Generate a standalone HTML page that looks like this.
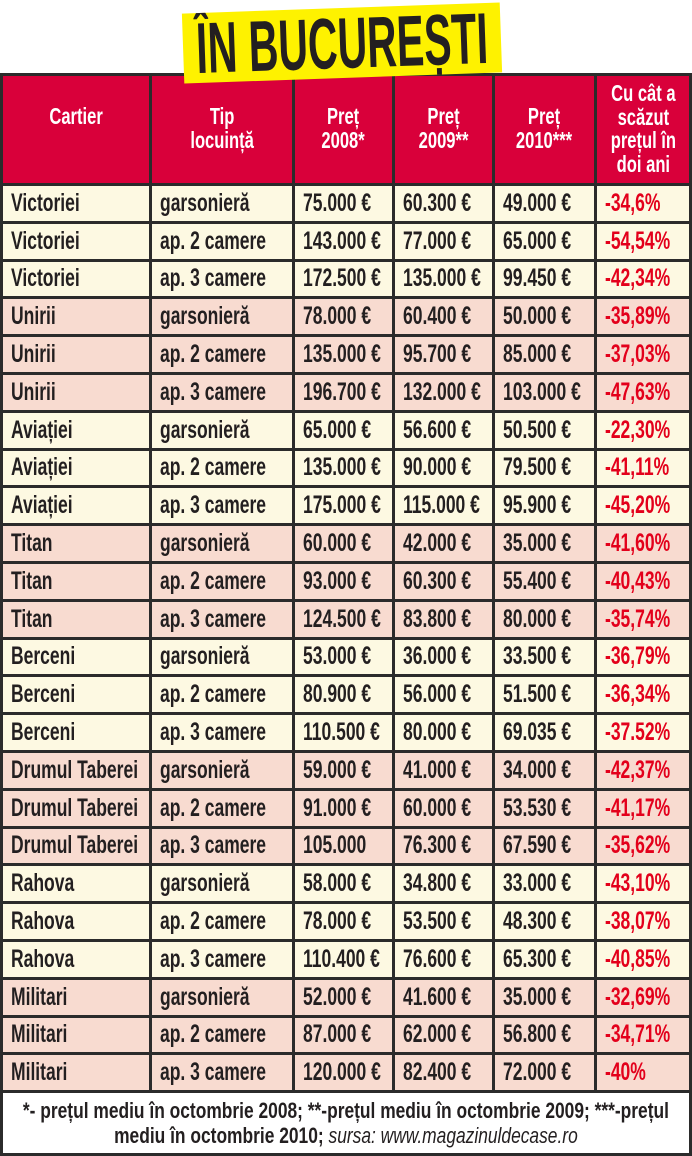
<!DOCTYPE html>
<html><head><meta charset="utf-8"><style>
body{margin:0;width:692px;height:1156px;background:#fff;position:relative;overflow:hidden;font-family:"Liberation Sans",sans-serif;font-weight:bold;}
.title{position:absolute;left:183px;top:8px;width:318px;height:70px;background:#fef200;transform:rotate(-2deg);z-index:2;text-align:center;color:#231f20;overflow:hidden;}
.title span{display:inline-block;font-size:72px;line-height:72px;white-space:nowrap;transform:scaleX(0.57);transform-origin:center;margin:0 -200px;}
table{position:absolute;left:0;top:73px;border-collapse:separate;border-spacing:3px;background:#2b2b2b;width:692px;table-layout:fixed;}
td{padding:0 0 0 8px;font-size:25px;color:#231f20;height:34.8px;white-space:nowrap;overflow:hidden;}
td span{display:inline-block;transform:scaleX(0.7);transform-origin:left center;}
th{background:#d9003a;color:#fff;font-size:23px;height:107px;line-height:23.5px;font-weight:bold;vertical-align:top;white-space:nowrap;overflow:hidden;padding:29px 0 0 0;box-sizing:border-box;}
th.c6{padding-top:6px;}
th span{display:inline-block;transform:scaleX(0.72);transform-origin:center;margin:0 -40px;}
tr.y td{background:#fdf9e2;}
tr.p td{background:#f8dbd0;}
td.r{color:#e3001b;}
td.f{background:#fff!important;height:60px;text-align:center;font-size:22px;line-height:25px;padding:0;}
td.f span{transform-origin:center;transform:scaleX(0.79);margin:0 -200px;}
td.f i{font-weight:normal;}
</style></head><body>
<div class="title"><span>ÎN BUCUREȘTI</span></div>
<table>
<colgroup><col style="width:146px"><col style="width:140px"><col style="width:97px"><col style="width:97px"><col style="width:99px"><col style="width:92px"></colgroup>
<tr><th><span>Cartier</span></th><th><span>Tip<br>locuință</span></th><th><span>Preț<br>2008*</span></th><th><span>Preț<br>2009**</span></th><th><span>Preț<br>2010***</span></th><th class="c6"><span>Cu cât a<br>scăzut<br>prețul în<br>doi ani</span></th></tr>
<tr class="y"><td><span>Victoriei</span></td><td><span>garsonieră</span></td><td><span>75.000 €</span></td><td><span>60.300 €</span></td><td><span>49.000 €</span></td><td class="r"><span>-34,6%</span></td></tr>
<tr class="y"><td><span>Victoriei</span></td><td><span>ap. 2 camere</span></td><td><span>143.000 €</span></td><td><span>77.000 €</span></td><td><span>65.000 €</span></td><td class="r"><span>-54,54%</span></td></tr>
<tr class="y"><td><span>Victoriei</span></td><td><span>ap. 3 camere</span></td><td><span>172.500 €</span></td><td><span>135.000 €</span></td><td><span>99.450 €</span></td><td class="r"><span>-42,34%</span></td></tr>
<tr class="p"><td><span>Unirii</span></td><td><span>garsonieră</span></td><td><span>78.000 €</span></td><td><span>60.400 €</span></td><td><span>50.000 €</span></td><td class="r"><span>-35,89%</span></td></tr>
<tr class="p"><td><span>Unirii</span></td><td><span>ap. 2 camere</span></td><td><span>135.000 €</span></td><td><span>95.700 €</span></td><td><span>85.000 €</span></td><td class="r"><span>-37,03%</span></td></tr>
<tr class="p"><td><span>Unirii</span></td><td><span>ap. 3 camere</span></td><td><span>196.700 €</span></td><td><span>132.000 €</span></td><td><span>103.000 €</span></td><td class="r"><span>-47,63%</span></td></tr>
<tr class="y"><td><span>Aviației</span></td><td><span>garsonieră</span></td><td><span>65.000 €</span></td><td><span>56.600 €</span></td><td><span>50.500 €</span></td><td class="r"><span>-22,30%</span></td></tr>
<tr class="y"><td><span>Aviației</span></td><td><span>ap. 2 camere</span></td><td><span>135.000 €</span></td><td><span>90.000 €</span></td><td><span>79.500 €</span></td><td class="r"><span>-41,11%</span></td></tr>
<tr class="y"><td><span>Aviației</span></td><td><span>ap. 3 camere</span></td><td><span>175.000 €</span></td><td><span>115.000 €</span></td><td><span>95.900 €</span></td><td class="r"><span>-45,20%</span></td></tr>
<tr class="p"><td><span>Titan</span></td><td><span>garsonieră</span></td><td><span>60.000 €</span></td><td><span>42.000 €</span></td><td><span>35.000 €</span></td><td class="r"><span>-41,60%</span></td></tr>
<tr class="p"><td><span>Titan</span></td><td><span>ap. 2 camere</span></td><td><span>93.000 €</span></td><td><span>60.300 €</span></td><td><span>55.400 €</span></td><td class="r"><span>-40,43%</span></td></tr>
<tr class="p"><td><span>Titan</span></td><td><span>ap. 3 camere</span></td><td><span>124.500 €</span></td><td><span>83.800 €</span></td><td><span>80.000 €</span></td><td class="r"><span>-35,74%</span></td></tr>
<tr class="y"><td><span>Berceni</span></td><td><span>garsonieră</span></td><td><span>53.000 €</span></td><td><span>36.000 €</span></td><td><span>33.500 €</span></td><td class="r"><span>-36,79%</span></td></tr>
<tr class="y"><td><span>Berceni</span></td><td><span>ap. 2 camere</span></td><td><span>80.900 €</span></td><td><span>56.000 €</span></td><td><span>51.500 €</span></td><td class="r"><span>-36,34%</span></td></tr>
<tr class="y"><td><span>Berceni</span></td><td><span>ap. 3 camere</span></td><td><span>110.500 €</span></td><td><span>80.000 €</span></td><td><span>69.035 €</span></td><td class="r"><span>-37.52%</span></td></tr>
<tr class="p"><td><span>Drumul Taberei</span></td><td><span>garsonieră</span></td><td><span>59.000 €</span></td><td><span>41.000 €</span></td><td><span>34.000 €</span></td><td class="r"><span>-42,37%</span></td></tr>
<tr class="p"><td><span>Drumul Taberei</span></td><td><span>ap. 2 camere</span></td><td><span>91.000 €</span></td><td><span>60.000 €</span></td><td><span>53.530 €</span></td><td class="r"><span>-41,17%</span></td></tr>
<tr class="p"><td><span>Drumul Taberei</span></td><td><span>ap. 3 camere</span></td><td><span>105.000</span></td><td><span>76.300 €</span></td><td><span>67.590 €</span></td><td class="r"><span>-35,62%</span></td></tr>
<tr class="y"><td><span>Rahova</span></td><td><span>garsonieră</span></td><td><span>58.000 €</span></td><td><span>34.800 €</span></td><td><span>33.000 €</span></td><td class="r"><span>-43,10%</span></td></tr>
<tr class="y"><td><span>Rahova</span></td><td><span>ap. 2 camere</span></td><td><span>78.000 €</span></td><td><span>53.500 €</span></td><td><span>48.300 €</span></td><td class="r"><span>-38,07%</span></td></tr>
<tr class="y"><td><span>Rahova</span></td><td><span>ap. 3 camere</span></td><td><span>110.400 €</span></td><td><span>76.600 €</span></td><td><span>65.300 €</span></td><td class="r"><span>-40,85%</span></td></tr>
<tr class="p"><td><span>Militari</span></td><td><span>garsonieră</span></td><td><span>52.000 €</span></td><td><span>41.600 €</span></td><td><span>35.000 €</span></td><td class="r"><span>-32,69%</span></td></tr>
<tr class="p"><td><span>Militari</span></td><td><span>ap. 2 camere</span></td><td><span>87.000 €</span></td><td><span>62.000 €</span></td><td><span>56.800 €</span></td><td class="r"><span>-34,71%</span></td></tr>
<tr class="p"><td><span>Militari</span></td><td><span>ap. 3 camere</span></td><td><span>120.000 €</span></td><td><span>82.400 €</span></td><td><span>72.000 €</span></td><td class="r"><span>-40%</span></td></tr>
<tr><td class="f" colspan="6"><span>*- prețul mediu în octombrie 2008; **-prețul mediu în octombrie 2009; ***-prețul<br>mediu în octombrie 2010; <i>sursa: www.magazinuldecase.ro</i></span></td></tr>
</table>
</body></html>
